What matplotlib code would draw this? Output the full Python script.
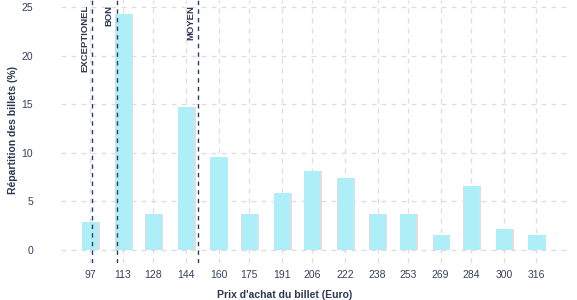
import matplotlib
matplotlib.use("Agg")
import matplotlib.pyplot as plt

prices = [97, 113, 128, 144, 160, 175, 191, 206, 222, 238, 253, 269, 284, 300, 316]
share = [2.9, 24.3, 3.7, 14.7, 9.6, 3.7, 5.9, 8.1, 7.4, 3.7, 3.7, 1.5, 6.6, 2.2, 1.5]
thr_names = ["EXCEPTIONEL", "BON", "MOYEN"]
thr_values = [98, 110, 150]

plt.rcParams['font.family'] = ['Liberation Sans', 'DejaVu Sans']
txt = "#2b3852"
fig = plt.figure(figsize=(5.77, 3.0), dpi=100)
ax = fig.add_axes([61/577, 1-263/300, (567-61)/577, 263/300])

w = 8.0
ax.bar([p + 0.8 for p in prices], share, width=w, color="#dedede", zorder=2)
ax.bar(prices, share, width=w, color="#aeeef8", zorder=3)

for name, v in zip(thr_names, thr_values):
    ax.axvline(v, color="#2d3e5e", lw=1.0, ls=(0, (3.2, 3)), zorder=4)
    ax.text(v - 1.6, 25.2, name, rotation=90, ha="right", va="top",
            fontsize=6.8, fontweight="bold", color=txt, zorder=5)

ax.set_xlim(97 - 0.92 * 15.64, 316 + 0.96 * 15.64)
ax.set_ylim(-1.34, 25.72)
ax.set_xticks(prices)
ax.set_xticklabels([str(p) for p in prices])
ax.set_yticks([0, 5, 10, 15, 20, 25])
ax.grid(True, color="#dddddd", ls=(0, (4, 4)), lw=0.9, zorder=0)
for s in ax.spines.values():
    s.set_visible(False)
ax.tick_params(length=0, labelsize=7.5, colors="#34405a")
ax.tick_params(axis="y", pad=20)
ax.tick_params(axis="x", pad=5)

fig.text(13/577, 1 - 130/300, "Répartition des billets (%)", rotation=90,
         ha="center", va="center", fontsize=7.5, fontweight="bold", color=txt)
fig.text(285/577, 1 - 295/300, "Prix d'achat du billet (Euro)",
         ha="center", va="center", fontsize=7.5, fontweight="bold", color=txt)

fig.savefig("out.png", dpi=100)
